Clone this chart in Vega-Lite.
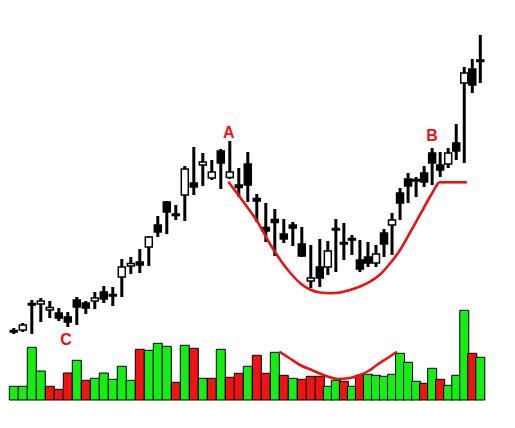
{
  "$schema": "https://vega.github.io/schema/vega-lite/v6.json",
  "width": 515,
  "height": 428,
  "autosize": "none",
  "padding": 0,
  "background": "white",
  "config": {"view": {"stroke": null}, "scale": {"continuousPadding": 0}},
  "datasets": {
    "candles": [
      {"i":0,"o":9.75,"h":10.0,"l":9.4,"c":9.6,"vol":13700,"vd":"up"},
      {"i":1,"o":9.8,"h":10.5,"l":9.6,"c":10.3,"vol":13700,"vd":"up"},
      {"i":2,"o":12.3,"h":12.8,"l":9.4,"c":12.45,"vol":52700,"vd":"up"},
      {"i":3,"o":12.4,"h":13.0,"l":10.6,"c":12.7,"vol":29000,"vd":"up"},
      {"i":4,"o":11.8,"h":12.7,"l":11.0,"c":12.05,"vol":13700,"vd":"down"},
      {"i":5,"o":11.5,"h":12.0,"l":10.7,"c":11.0,"vol":10700,"vd":"down"},
      {"i":6,"o":11.1,"h":11.6,"l":10.1,"c":10.6,"vol":27000,"vd":"down"},
      {"i":7,"o":12.8,"h":13.1,"l":10.3,"c":12.1,"vol":39700,"vd":"up"},
      {"i":8,"o":12.5,"h":12.7,"l":11.4,"c":12.0,"vol":19700,"vd":"down"},
      {"i":9,"o":12.7,"h":13.6,"l":11.9,"c":13.0,"vol":21700,"vd":"up"},
      {"i":10,"o":13.6,"h":14.2,"l":12.5,"c":12.9,"vol":27000,"vd":"up"},
      {"i":11,"o":13.2,"h":14.1,"l":12.2,"c":13.35,"vol":20700,"vd":"up"},
      {"i":12,"o":15.1,"h":16.9,"l":13.1,"c":16.1,"vol":33700,"vd":"up"},
      {"i":13,"o":16.2,"h":17.1,"l":15.4,"c":16.45,"vol":19700,"vd":"up"},
      {"i":14,"o":16.6,"h":17.9,"l":15.5,"c":16.3,"vol":50700,"vd":"down"},
      {"i":15,"o":18.1,"h":19.2,"l":16.2,"c":19.1,"vol":49700,"vd":"up"},
      {"i":16,"o":20.3,"h":21.2,"l":19.1,"c":19.6,"vol":56700,"vd":"up"},
      {"i":17,"o":22.6,"h":22.7,"l":19.4,"c":21.6,"vol":53700,"vd":"up"},
      {"i":18,"o":21.25,"h":22.3,"l":20.8,"c":21.4,"vol":17700,"vd":"down"},
      {"i":19,"o":23.3,"h":26.2,"l":20.7,"c":25.9,"vol":54700,"vd":"up"},
      {"i":20,"o":24.5,"h":28.1,"l":23.3,"c":24.1,"vol":51700,"vd":"down"},
      {"i":21,"o":26.3,"h":27.5,"l":24.2,"c":26.6,"vol":21700,"vd":"up"},
      {"i":22,"o":25.0,"h":26.8,"l":24.8,"c":25.6,"vol":21700,"vd":"down"},
      {"i":23,"o":27.7,"h":27.9,"l":23.9,"c":26.5,"vol":50700,"vd":"up"},
      {"i":24,"o":25.05,"h":28.7,"l":24.9,"c":25.6,"vol":22700,"vd":"down"},
      {"i":25,"o":24.3,"h":26.0,"l":23.1,"c":24.05,"vol":26700,"vd":"down"},
      {"i":26,"o":26.4,"h":27.6,"l":22.6,"c":24.3,"vol":33700,"vd":"up"},
      {"i":27,"o":22.95,"h":23.4,"l":20.6,"c":22.7,"vol":44700,"vd":"down"},
      {"i":28,"o":20.05,"h":22.5,"l":18.6,"c":19.7,"vol":26700,"vd":"down"},
      {"i":29,"o":20.85,"h":21.9,"l":17.2,"c":20.55,"vol":47700,"vd":"up"},
      {"i":30,"o":19.4,"h":20.9,"l":18.5,"c":18.9,"vol":24700,"vd":"down"},
      {"i":31,"o":20.3,"h":20.6,"l":18.2,"c":20.0,"vol":21700,"vd":"up"},
      {"i":32,"o":18.4,"h":20.1,"l":17.1,"c":17.2,"vol":20700,"vd":"down"},
      {"i":33,"o":14.7,"h":18.3,"l":14.0,"c":15.0,"vol":23700,"vd":"down"},
      {"i":34,"o":16.1,"h":18.9,"l":14.1,"c":15.0,"vol":23700,"vd":"down"},
      {"i":35,"o":16.1,"h":18.7,"l":15.3,"c":17.7,"vol":13700,"vd":"up"},
      {"i":36,"o":19.95,"h":20.9,"l":15.6,"c":19.8,"vol":19700,"vd":"up"},
      {"i":37,"o":18.55,"h":20.5,"l":16.8,"c":18.4,"vol":18700,"vd":"down"},
      {"i":38,"o":18.95,"h":19.3,"l":17.3,"c":18.8,"vol":13700,"vd":"up"},
      {"i":39,"o":16.8,"h":18.8,"l":15.6,"c":15.9,"vol":24700,"vd":"down"},
      {"i":40,"o":17.1,"h":18.6,"l":16.1,"c":16.5,"vol":25700,"vd":"up"},
      {"i":41,"o":16.5,"h":18.3,"l":16.1,"c":17.4,"vol":24700,"vd":"up"},
      {"i":42,"o":19.5,"h":19.9,"l":17.1,"c":18.4,"vol":23700,"vd":"up"},
      {"i":43,"o":20.3,"h":21.5,"l":17.3,"c":20.8,"vol":25700,"vd":"up"},
      {"i":44,"o":23.5,"h":24.0,"l":20.8,"c":22.5,"vol":46700,"vd":"up"},
      {"i":45,"o":24.9,"h":25.5,"l":22.5,"c":24.2,"vol":37700,"vd":"up"},
      {"i":46,"o":24.85,"h":25.1,"l":23.1,"c":24.7,"vol":18700,"vd":"up"},
      {"i":47,"o":25.5,"h":26.2,"l":24.1,"c":24.6,"vol":16700,"vd":"down"},
      {"i":48,"o":27.5,"h":28.0,"l":24.3,"c":26.5,"vol":31700,"vd":"up"},
      {"i":49,"o":26.3,"h":27.6,"l":25.1,"c":25.8,"vol":20700,"vd":"down"},
      {"i":50,"o":26.4,"h":28.0,"l":26.0,"c":27.5,"vol":14700,"vd":"up"},
      {"i":51,"o":28.5,"h":30.4,"l":26.8,"c":27.7,"vol":24700,"vd":"up"},
      {"i":52,"o":34.5,"h":36.1,"l":26.5,"c":35.5,"vol":89700,"vd":"up"},
      {"i":53,"o":35.9,"h":36.9,"l":33.5,"c":34.3,"vol":46700,"vd":"down"},
      {"i":54,"o":36.8,"h":39.3,"l":34.5,"c":36.65,"vol":42700,"vd":"up"}
    ],
    "cup": [
      {"i":23.83,"price":24.63},{"i":25.36,"price":22.8},{"i":27.02,"price":20.7},
      {"i":28.47,"price":18.4},{"i":30.36,"price":15.9},{"i":31.8,"price":14.5},
      {"i":32.91,"price":13.85},{"i":34.02,"price":13.55},{"i":35.27,"price":13.47},
      {"i":36.52,"price":13.55},{"i":37.76,"price":13.8},{"i":39.01,"price":14.15},
      {"i":40.26,"price":14.63},{"i":41.51,"price":15.35},{"i":42.38,"price":16.1},
      {"i":44.0,"price":17.8},{"i":45.25,"price":19.55},{"i":46.5,"price":21.35},
      {"i":47.75,"price":23.15},{"i":48.78,"price":24.57}
    ],
    "handle": [
      {"i":48.78,"price":24.57},{"i":52.32,"price":24.57}
    ],
    "volcurve": [
      {"i":29.5,"vol":48300},{"i":30.69,"vol":41500},{"i":31.8,"vol":35000},
      {"i":33.1,"vol":30000},{"i":34.65,"vol":24500},{"i":36.31,"vol":21000},
      {"i":37.76,"vol":22000},{"i":39.01,"vol":25000},{"i":40.26,"vol":30000},
      {"i":41.1,"vol":35000},{"i":42.26,"vol":41000},{"i":43.59,"vol":48300}
    ],
    "labels": [
      {"label":"A","i":23.9,"price":29.55},
      {"label":"B","i":47.98,"price":29.2},
      {"label":"C","i":5.8,"price":8.8}
    ]
  },
  "resolve": {"scale": {"y": "independent"}},
  "layer": [
    {
      "layer": [
        {
          "data": {"name": "candles"},
          "mark": {"type": "rule", "color": "black", "strokeWidth": 3},
          "encoding": {
            "x": {"field": "i", "type": "quantitative", "axis": null, "scale": {"domain": [0, 34, 54], "range": [13.8, 319.8, 480.3], "nice": false, "zero": false, "padding": 0}},
            "y": {"field": "l", "type": "quantitative", "axis": null, "scale": {"domain": [0, 42.8], "nice": false, "zero": false, "padding": 0}},
            "y2": {"field": "h"}
          }
        },
        {
          "data": {"name": "candles"},
          "mark": {"type": "bar", "size": 7, "stroke": "black", "strokeWidth": 1.5, "orient": "vertical"},
          "encoding": {
            "x": {"field": "i", "type": "quantitative", "axis": null, "scale": {"domain": [0, 34, 54], "range": [13.8, 319.8, 480.3], "nice": false, "zero": false, "padding": 0}},
            "y": {"field": "o", "type": "quantitative", "axis": null, "scale": {"domain": [0, 42.8], "nice": false, "zero": false, "padding": 0}},
            "y2": {"field": "c"},
            "fill": {"condition": {"test": "datum.c > datum.o", "value": "white"}, "value": "black"}
          }
        },
        {
          "data": {"name": "cup"},
          "mark": {"type": "line", "color": "#e81414", "strokeWidth": 2.6, "interpolate": "monotone"},
          "encoding": {
            "x": {"field": "i", "type": "quantitative", "axis": null, "scale": {"domain": [0, 34, 54], "range": [13.8, 319.8, 480.3], "nice": false, "zero": false, "padding": 0}},
            "y": {"field": "price", "type": "quantitative", "axis": null, "scale": {"domain": [0, 42.8], "nice": false, "zero": false, "padding": 0}}
          }
        },
        {
          "data": {"name": "handle"},
          "mark": {"type": "line", "color": "#e81414", "strokeWidth": 2.6},
          "encoding": {
            "x": {"field": "i", "type": "quantitative", "axis": null, "scale": {"domain": [0, 34, 54], "range": [13.8, 319.8, 480.3], "nice": false, "zero": false, "padding": 0}},
            "y": {"field": "price", "type": "quantitative", "axis": null, "scale": {"domain": [0, 42.8], "nice": false, "zero": false, "padding": 0}}
          }
        },
        {
          "data": {"name": "labels"},
          "mark": {"type": "text", "color": "#ee1111", "fontSize": 16, "fontWeight": "bold", "font": "Liberation Sans", "baseline": "middle", "align": "center"},
          "encoding": {
            "x": {"field": "i", "type": "quantitative", "axis": null, "scale": {"domain": [0, 34, 54], "range": [13.8, 319.8, 480.3], "nice": false, "zero": false, "padding": 0}},
            "y": {"field": "price", "type": "quantitative", "axis": null, "scale": {"domain": [0, 42.8], "nice": false, "zero": false, "padding": 0}},
            "text": {"field": "label"}
          }
        }
      ]
    },
    {
      "layer": [
        {
          "data": {"name": "candles"},
          "mark": {"type": "bar", "size": 9, "stroke": "black", "strokeWidth": 1, "orient": "vertical"},
          "encoding": {
            "x": {"field": "i", "type": "quantitative", "axis": null, "scale": {"domain": [0, 34, 54], "range": [13.8, 319.8, 480.3], "nice": false, "zero": false, "padding": 0}},
            "y": {"field": "vol", "type": "quantitative", "axis": null, "stack": null, "scale": {"domain": [-28000, 400000], "nice": false, "zero": false, "padding": 0}},
            "fill": {"field": "vd", "type": "nominal", "legend": null, "scale": {"domain": ["up", "down"], "range": ["#14ee14", "#ee1414"]}}
          }
        },
        {
          "data": {"name": "volcurve"},
          "mark": {"type": "line", "color": "#e81414", "strokeWidth": 2.6, "interpolate": "monotone"},
          "encoding": {
            "x": {"field": "i", "type": "quantitative", "axis": null, "scale": {"domain": [0, 34, 54], "range": [13.8, 319.8, 480.3], "nice": false, "zero": false, "padding": 0}},
            "y": {"field": "vol", "type": "quantitative", "axis": null, "scale": {"domain": [-28000, 400000], "nice": false, "zero": false, "padding": 0}}
          }
        }
      ]
    }
  ]
}
